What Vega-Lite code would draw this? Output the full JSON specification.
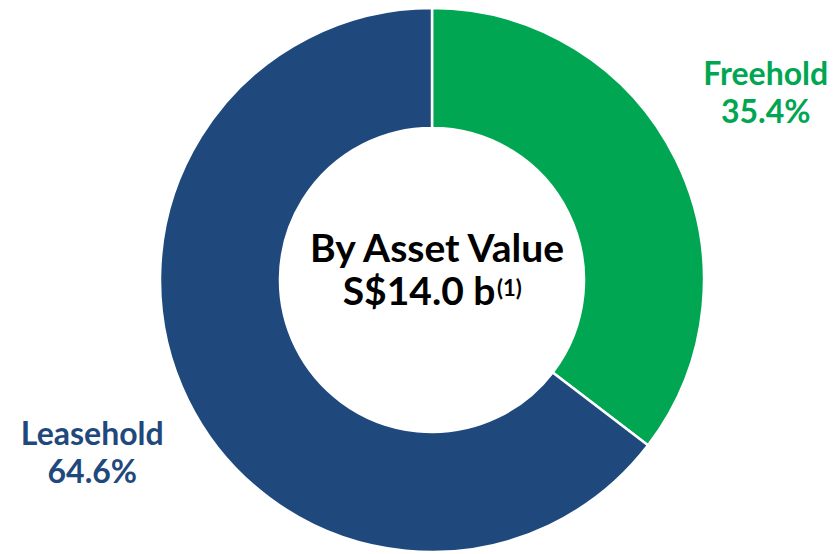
{
  "$schema": "https://vega.github.io/schema/vega-lite/v6.json",
  "width": 838,
  "height": 554,
  "autosize": {"type": "fit", "contains": "padding"},
  "padding": {"left": 26, "right": 0, "top": 6, "bottom": 0},
  "background": "white",
  "config": {"view": {"stroke": null}, "font": "Lato"},
  "data": {
    "values": [
      {"category": "Freehold", "share": 35.4, "label": ["Freehold", "35.4%"], "ord": 1},
      {"category": "Leasehold", "share": 64.6, "label": ["Leasehold", "64.6%"], "ord": 2}
    ]
  },
  "encoding": {
    "theta": {"field": "share", "type": "quantitative", "stack": true},
    "order": {"field": "ord", "type": "quantitative"},
    "color": {
      "field": "category",
      "type": "nominal",
      "scale": {"domain": ["Freehold", "Leasehold"], "range": ["#00A651", "#1F497D"]},
      "legend": null
    }
  },
  "layer": [
    {
      "mark": {"type": "arc", "outerRadius": 272, "innerRadius": 152, "stroke": "white", "strokeWidth": 2.5}
    },
    {
      "mark": {"type": "text", "radius": 380, "font": "Lato", "fontWeight": "bold", "fontSize": 32, "lineHeight": 38, "align": "center", "baseline": "middle", "dx": -7, "dy": -37},
      "encoding": {"text": {"condition": {"test": "datum.category === 'Freehold'", "field": "label"}, "value": ""}}
    },
    {
      "mark": {"type": "text", "radius": 380, "font": "Lato", "fontWeight": "bold", "fontSize": 32, "lineHeight": 38, "align": "center", "baseline": "middle", "dx": 1, "dy": -13},
      "encoding": {"text": {"condition": {"test": "datum.category === 'Leasehold'", "field": "label"}, "value": ""}}
    },
    {
      "data": {"values": [{"title": "By Asset Value"}]},
      "mark": {"type": "text", "font": "Lato", "fontWeight": "bold", "fontSize": 39, "color": "black", "align": "center", "baseline": "alphabetic", "dx": 5, "dy": -18},
      "encoding": {"text": {"field": "title"}, "theta": null, "order": null, "color": null}
    },
    {
      "data": {"values": [{"value": "S$14.0 b"}]},
      "mark": {"type": "text", "font": "Lato", "fontWeight": "bold", "fontSize": 39, "color": "black", "align": "center", "baseline": "alphabetic", "dx": -13, "dy": 25},
      "encoding": {"text": {"field": "value"}, "theta": null, "order": null, "color": null}
    },
    {
      "data": {"values": [{"note": "(1)"}]},
      "mark": {"type": "text", "font": "Lato", "fontWeight": "bold", "fontSize": 22, "color": "black", "align": "left", "baseline": "alphabetic", "dx": 65, "dy": 16},
      "encoding": {"text": {"field": "note"}, "theta": null, "order": null, "color": null}
    }
  ]
}
